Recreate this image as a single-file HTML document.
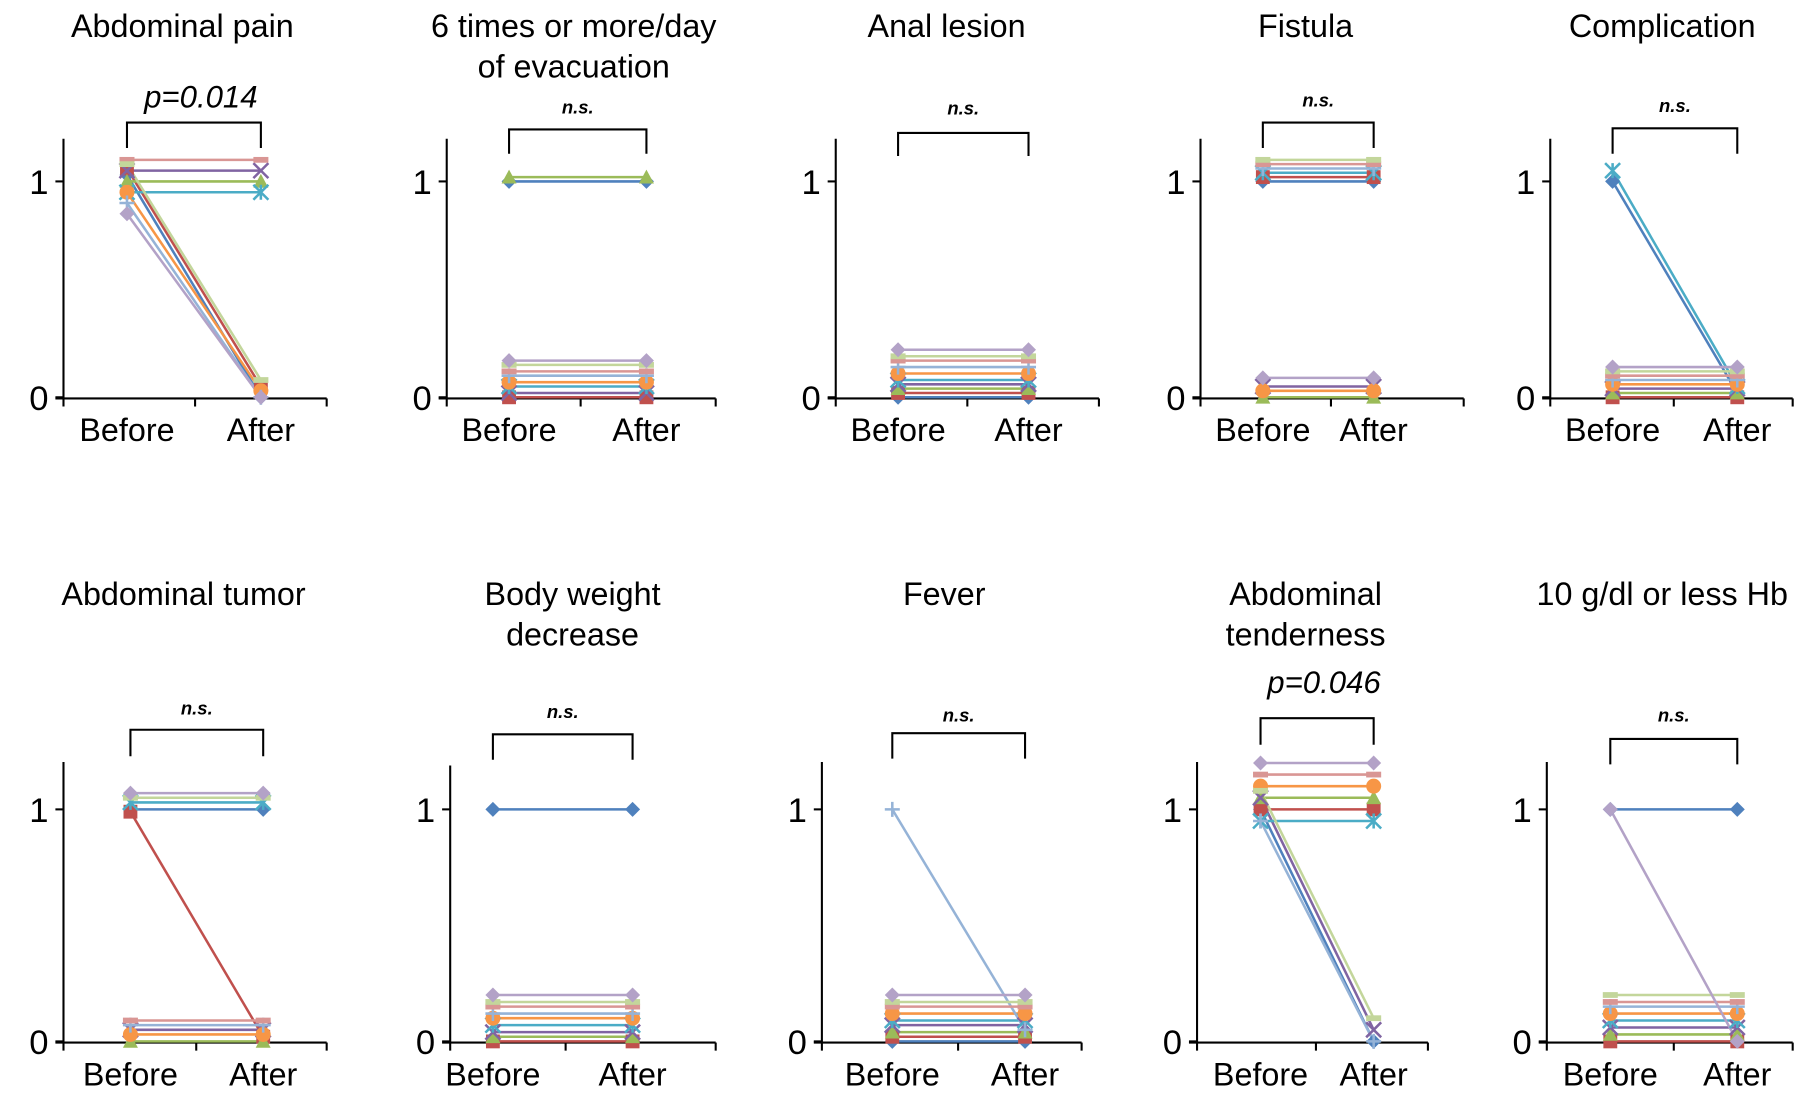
<!DOCTYPE html>
<html><head><meta charset="utf-8">
<style>
html,body{margin:0;padding:0;background:#fff;}
svg{display:block;}
text{font-family:"Liberation Sans",Arial,sans-serif;fill:#000;}
</style></head>
<body>
<svg id="chart" width="1810" height="1097" viewBox="0 0 1568 950" xmlns="http://www.w3.org/2000/svg"></svg>
<script>
// series order: blue, red, green, purple, teal, orange, lightblue, pink, lightgreen, lavender
const categories = ["Before", "After"];
const tickLabels = ["0", "1"];
const titles = [
  ["Abdominal pain"], ["6 times or more/day", "of evacuation"], ["Anal lesion"], ["Fistula"], ["Complication"],
  ["Abdominal tumor"], ["Body weight", "decrease"], ["Fever"], ["Abdominal", "tenderness"], ["10 g/dl or less Hb"]
];
const sigLabels = ["p=0.014", "n.s.", "n.s.", "n.s.", "n.s.", "n.s.", "n.s.", "n.s.", "p=0.046", "n.s."];

const p1Before = [1.03, 1.06, 1.0, 1.05, 0.95, 0.95, 0.9, 1.1, 1.08, 0.85];
const p1After  = [0.0, 0.05, 1.0, 1.05, 0.95, 0.03, 0.0, 1.1, 0.08, 0.0];
const p2Before = [1.0, 0.0, 1.02, 0.02, 0.05, 0.07, 0.1, 0.12, 0.15, 0.17];
const p2After  = [1.0, 0.0, 1.02, 0.02, 0.05, 0.07, 0.1, 0.12, 0.15, 0.17];
const p3Before = [0.0, 0.02, 0.04, 0.06, 0.08, 0.11, 0.14, 0.17, 0.19, 0.22];
const p3After  = [0.0, 0.02, 0.04, 0.06, 0.08, 0.11, 0.14, 0.17, 0.19, 0.22];
const p4Before = [1.0, 1.02, 0.0, 0.05, 1.04, 0.03, 1.06, 1.08, 1.1, 0.09];
const p4After  = [1.0, 1.02, 0.0, 0.05, 1.04, 0.03, 1.06, 1.08, 1.1, 0.09];
const p5Before = [1.0, 0.0, 0.02, 0.04, 1.05, 0.06, 0.08, 0.1, 0.12, 0.14];
const p5After  = [0.02, 0.0, 0.02, 0.04, 0.05, 0.06, 0.08, 0.1, 0.12, 0.14];
const p6Before = [1.0, 0.99, 0.0, 0.05, 1.03, 0.03, 0.07, 0.09, 1.05, 1.07];
const p6After  = [1.0, 0.02, 0.0, 0.05, 1.03, 0.03, 0.07, 0.09, 1.05, 1.07];
const p7Before = [1.0, 0.0, 0.02, 0.04, 0.07, 0.1, 0.12, 0.15, 0.17, 0.2];
const p7After  = [1.0, 0.0, 0.02, 0.04, 0.07, 0.1, 0.12, 0.15, 0.17, 0.2];
const p8Before = [0.0, 0.02, 0.04, 0.07, 0.09, 0.12, 1.0, 0.15, 0.17, 0.2];
const p8After  = [0.0, 0.02, 0.04, 0.07, 0.09, 0.12, 0.05, 0.15, 0.17, 0.2];
const p9Before = [1.0, 1.0, 1.05, 1.05, 0.95, 1.1, 0.95, 1.15, 1.08, 1.2];
const p9After  = [0.0, 1.0, 1.05, 0.05, 0.95, 1.1, 0.0, 1.15, 0.1, 1.2];
const p10Before = [1.0, 0.0, 0.03, 0.06, 0.09, 0.12, 0.15, 0.17, 0.2, 1.0];
const p10After  = [1.0, 0.0, 0.03, 0.06, 0.09, 0.12, 0.15, 0.17, 0.2, 0.0];

const beforeSets = [p1Before,p2Before,p3Before,p4Before,p5Before,p6Before,p7Before,p8Before,p9Before,p10Before];
const afterSets  = [p1After,p2After,p3After,p4After,p5After,p6After,p7After,p8After,p9After,p10After];

const colors = ["#4F81BD","#C0504D","#9BBB59","#8064A2","#4BACC6","#F79646","#95B3D7","#D99694","#C3D69B","#B3A2C7"];
const markers = ["diamond","square","triangle","x","star","circle","plus","dash","dash","diamond"];

const layout = [
  {ax:55, end:283, bx:110, afx:226, mid:169, top:120, y0:344, y1:157, tx:158, ty:22, brT:106, brB:128, sy:84},
  {ax:387,end:620, bx:441, afx:560, mid:503, top:120, y0:344, y1:157, tx:497, ty:22, brT:112, brB:133, sy:98},
  {ax:724,end:952, bx:778, afx:891, mid:838, top:120, y0:344, y1:157, tx:820, ty:22, brT:115, brB:135, sy:99},
  {ax:1040,end:1268,bx:1094,afx:1190,mid:1153,top:120, y0:344, y1:157, tx:1131,ty:22, brT:106, brB:128, sy:92},
  {ax:1343,end:1553,bx:1397,afx:1505,mid:1450,top:120, y0:344, y1:157, tx:1440,ty:22, brT:111, brB:133, sy:97},
  {ax:55, end:283, bx:113, afx:228, mid:170, top:660, y0:902, y1:701, tx:159, ty:514, brT:632, brB:655, sy:619},
  {ax:390,end:620, bx:427, afx:548, mid:490, top:663, y0:902, y1:701, tx:496, ty:514, brT:636, brB:658, sy:622},
  {ax:712,end:937, bx:773, afx:888, mid:830, top:660, y0:902, y1:701, tx:818, ty:514, brT:635, brB:657, sy:625},
  {ax:1037,end:1237,bx:1092,afx:1190,mid:1140,top:660, y0:902, y1:701, tx:1131,ty:514, brT:622, brB:645, sy:591},
  {ax:1340,end:1553,bx:1395,afx:1505,mid:1450,top:660, y0:902, y1:701, tx:1440,ty:514, brT:640, brB:662, sy:625}
];

const svg = document.getElementById('chart');
const NS = "http://www.w3.org/2000/svg";
function mk(tag, attrs, parent){
  const e = document.createElementNS(NS, tag);
  for (const k in attrs) e.setAttribute(k, attrs[k]);
  (parent||svg).appendChild(e);
  return e;
}
function drawMarker(g, type, x, y, c){
  const r = 6.5;
  let m;
  if (type==="diamond") m = mk('polygon',{points:`${x},${y-r} ${x+r},${y} ${x},${y+r} ${x-r},${y}`,fill:c},g);
  else if (type==="square") m = mk('rect',{x:x-r+0.5,y:y-r+0.5,width:2*r-1,height:2*r-1,fill:c},g);
  else if (type==="triangle") m = mk('polygon',{points:`${x},${y-r} ${x+r},${y+r-1} ${x-r},${y+r-1}`,fill:c},g);
  else if (type==="circle") m = mk('circle',{cx:x,cy:y,r:r,fill:c},g);
  else if (type==="x") m = mk('path',{d:`M${x-r},${y-r}L${x+r},${y+r}M${x-r},${y+r}L${x+r},${y-r}`,stroke:c,'stroke-width':2.2},g);
  else if (type==="star") m = mk('path',{d:`M${x-r},${y-r}L${x+r},${y+r}M${x-r},${y+r}L${x+r},${y-r}M${x},${y-r}L${x},${y+r}`,stroke:c,'stroke-width':2.2},g);
  else if (type==="plus") m = mk('path',{d:`M${x-r},${y}L${x+r},${y}M${x},${y-r}L${x},${y+r}`,stroke:c,'stroke-width':2.2},g);
  else m = mk('rect',{x:x-r,y:y-2.5,width:2*r,height:5,fill:c},g);
  
  
}

layout.forEach((L, i) => {
  const g = mk('g', {});
  
  
  const yScale = v => L.y0 - v * (L.y0 - L.y1);
  const xs = [L.bx, L.afx];

  titles[i].forEach((line, k) => {
    const t = mk('text', {x:L.tx, y:L.ty + k*35 + 10, 'text-anchor':'middle', 'font-size':28}, g);
    t.textContent = line;
    
    
  });
  const br = mk('path', {d:`M${L.bx},${L.brB}V${L.brT}H${L.afx}V${L.brB}`, fill:'none', stroke:'#000', 'stroke-width':1.8}, g);
  
  
  const isP = sigLabels[i].startsWith('p');
  const st = mk('text', {x:(L.bx+L.afx)/2 + (isP?6:0), y:L.sy + (isP?9:0), 'text-anchor':'middle', 'font-size': isP?27:16, 'font-style':'italic', 'font-weight': isP?'normal':'bold'}, g);
  st.textContent = sigLabels[i];
  
  

  const ya = mk('line', {x1:L.ax, y1:L.top, x2:L.ax, y2:L.y0+8, stroke:'#000', 'stroke-width':1.8}, g);
  
  
  const xa = mk('line', {x1:L.ax-7, y1:L.y0+1, x2:L.end, y2:L.y0+1, stroke:'#000', 'stroke-width':1.8}, g);
  
  
  [L.mid, L.end].forEach(tx => {
    const tk = mk('line', {x1:tx, y1:L.y0+1, x2:tx, y2:L.y0+8, stroke:'#000', 'stroke-width':1.8}, g);
    
    
  });
  tickLabels.forEach((lab) => {
    const yy = yScale(+lab);
    const tk = mk('line', {x1:L.ax-7, y1:yy, x2:L.ax, y2:yy, stroke:'#000', 'stroke-width':1.8}, g);
    
    
    const t = mk('text', {x:L.ax-13, y:yy+11, 'text-anchor':'end', 'font-size':30}, g);
    t.textContent = lab;
    
    
  });
  categories.forEach((c, k) => {
    const t = mk('text', {x:xs[k], y:L.y0 + 38, 'text-anchor':'middle', 'font-size':28}, g);
    t.textContent = c;
    
    
  });

  const bv = beforeSets[i], av = afterSets[i];
  bv.forEach((v, s) => {
    const ln = mk('line', {x1:L.bx, y1:yScale(v), x2:L.afx, y2:yScale(av[s]), stroke:colors[s], 'stroke-width':2.2}, g);
    
    
  });
  bv.forEach((v, s) => {
    drawMarker(g, markers[s], L.bx, yScale(v), colors[s]);
    drawMarker(g, markers[s], L.afx, yScale(av[s]), colors[s]);
  });
});
</script>
</body></html>
